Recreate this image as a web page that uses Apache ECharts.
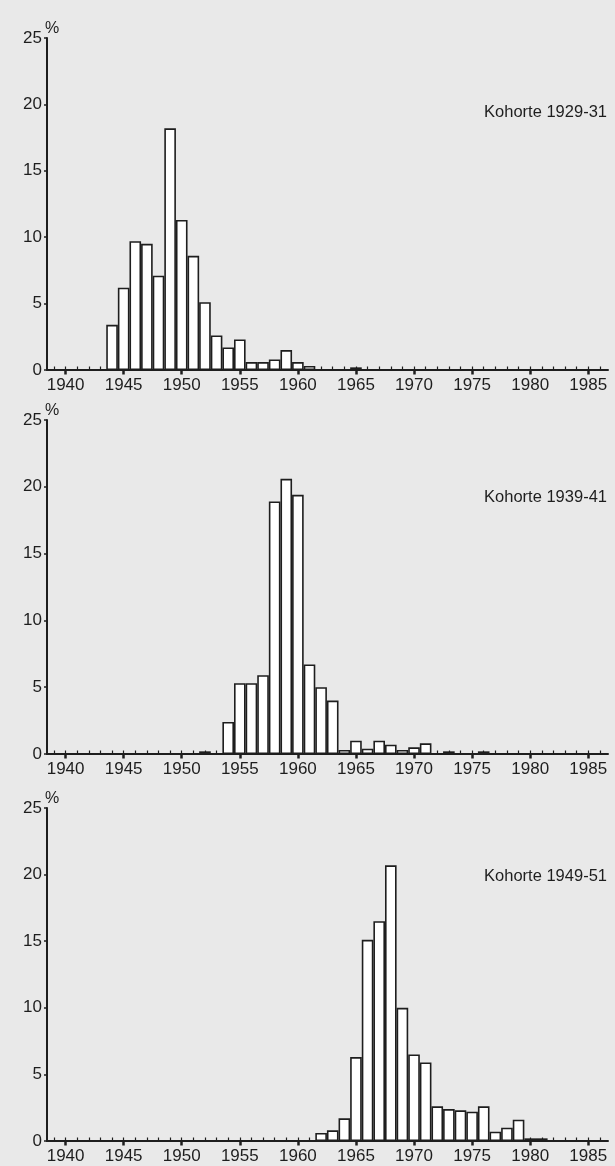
<!DOCTYPE html>
<html>
<head>
<meta charset="utf-8">
<title>Kohorten</title>
<script src="https://cdn.jsdelivr.net/npm/echarts@6/dist/echarts.min.js"></script>
<style>
  html, body { margin: 0; padding: 0; background: #e9e9e9; }
  #main { width: 615px; height: 1166px; }
</style>
</head>
<body>
<div id="main"></div>
<script>
// Kohorte 1929-31
var years1 = [1944, 1945, 1946, 1947, 1948, 1949, 1950, 1951, 1952, 1953, 1954, 1955, 1956, 1957, 1958, 1959, 1960, 1961, 1965];
var share1 = [3.4, 6.2, 9.7, 9.5, 7.1, 18.2, 11.3, 8.6, 5.1, 2.6, 1.7, 2.3, 0.6, 0.6, 0.8, 1.5, 0.6, 0.3, 0.2];

// Kohorte 1939-41
var years2 = [1952, 1954, 1955, 1956, 1957, 1958, 1959, 1960, 1961, 1962, 1963, 1964, 1965, 1966, 1967, 1968, 1969, 1970, 1971, 1973, 1976];
var share2 = [0.2, 2.4, 5.3, 5.3, 5.9, 18.9, 20.6, 19.4, 6.7, 5.0, 4.0, 0.3, 1.0, 0.4, 1.0, 0.7, 0.3, 0.5, 0.8, 0.2, 0.2];

// Kohorte 1949-51
var years3 = [1962, 1963, 1964, 1965, 1966, 1967, 1968, 1969, 1970, 1971, 1972, 1973, 1974, 1975, 1976, 1977, 1978, 1979, 1980, 1981];
var share3 = [0.6, 0.8, 1.7, 6.3, 15.1, 16.5, 20.7, 10.0, 6.5, 5.9, 2.6, 2.4, 2.3, 2.2, 2.6, 0.7, 1.0, 1.6, 0.2, 0.2];

var labelYears = [1940, 1945, 1950, 1955, 1960, 1965, 1970, 1975, 1980, 1985];
var tickYears = [1939, 1940, 1941, 1942, 1943, 1944, 1945, 1946, 1947, 1948, 1949, 1950,
  1951, 1952, 1953, 1954, 1955, 1956, 1957, 1958, 1959, 1960, 1961, 1962, 1963, 1964,
  1965, 1966, 1967, 1968, 1969, 1970, 1971, 1972, 1973, 1974, 1975, 1976, 1977, 1978,
  1979, 1980, 1981, 1982, 1983, 1984, 1985, 1986];
var titles = ['Kohorte 1929-31', 'Kohorte 1939-41', 'Kohorte 1949-51'];

var allYears = [years1, years2, years3];
var allShares = [share1, share2, share3];

var ink = '#1e1e1e';
var font = "'Liberation Sans', Arial, sans-serif";
var xMin = 1938.4, xMax = 1986.7;
var gridLeft = 47, gridWidth = 561;
var tops = [38, 420, 808];       // oberkante der plots
var heights = [332, 334, 333];
var titleTops = [99, 484, 863];
var barW = gridWidth / (xMax - xMin);

var myChart = echarts.init(document.getElementById('main'));

var option = {
  backgroundColor: '#e9e9e9',
  animation: false,
  title: [],
  grid: [],
  xAxis: [],
  yAxis: [],
  series: []
};

for (var i = 0; i < 3; i++) {
  option.title.push({
    text: titles[i],
    right: 3,
    top: titleTops[i],
    textStyle: { color: ink, fontSize: 16.5, fontWeight: 'normal', fontFamily: font }
  });
  // einheit oben an der y-achse
  option.title.push({
    text: '%',
    left: 40,
    top: tops[i] - 22,
    textStyle: { color: ink, fontSize: 16, fontWeight: 'normal', fontFamily: font }
  });
  option.grid.push({ left: gridLeft, width: gridWidth, top: tops[i], height: heights[i] });

  // achse mit beschriftung, staerkere striche alle 5 jahre
  option.xAxis.push({
    type: 'value',
    gridIndex: i,
    min: xMin,
    max: xMax,
    splitLine: { show: false },
    axisLine: { onZero: false, lineStyle: { color: ink, width: 2 } },
    axisTick: { show: true, inside: false, length: 4.5, customValues: labelYears, lineStyle: { color: ink, width: 2.5 } },
    axisLabel: {
      customValues: labelYears,
      margin: 7,
      color: ink,
      fontSize: 17,
      fontFamily: font,
      formatter: function (v) { return String(v); }
    }
  });
  // feine jahresstriche
  option.xAxis.push({
    type: 'value',
    gridIndex: i,
    min: xMin,
    max: xMax,
    splitLine: { show: false },
    axisLine: { show: false },
    axisTick: { show: true, inside: false, length: 3.5, customValues: tickYears, lineStyle: { color: ink, width: 1.2 } },
    axisLabel: { show: true, customValues: tickYears, formatter: function () { return ''; } }
  });

  option.yAxis.push({
    type: 'value',
    gridIndex: i,
    min: 0,
    max: 25,
    interval: 5,
    splitLine: { show: false },
    axisLine: { show: true, lineStyle: { color: ink, width: 2 } },
    axisTick: { show: true, length: 3, lineStyle: { color: ink, width: 1.5 } },
    axisLabel: { margin: 5, color: ink, fontSize: 17, fontFamily: font }
  });

  var data = [];
  allYears[i].forEach(function (y, k) {
    data.push([y, allShares[i][k]]);
  });
  option.series.push({
    type: 'bar',
    xAxisIndex: i * 2,
    yAxisIndex: i,
    barWidth: barW,
    itemStyle: { color: '#ffffff', borderColor: ink, borderWidth: 1.6 },
    data: data
  });
}

myChart.setOption(option);
</script>
</body>
</html>
